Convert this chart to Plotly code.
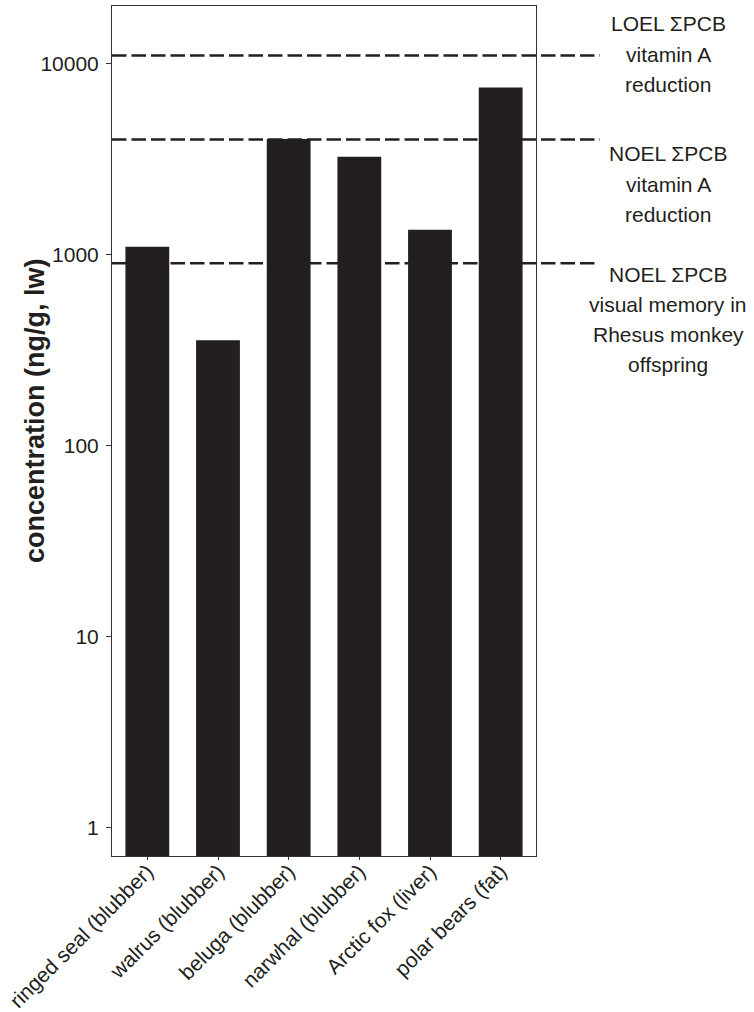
import plotly.graph_objects as go

categories = ["ringed seal (blubber)", "walrus (blubber)", "beluga (blubber)",
              "narwhal (blubber)", "Arctic fox (liver)", "polar bears (fat)"]
concentration = [1100, 356, 4020, 3250, 1350, 7500]

threshold_values = [11000, 4000, 900]
threshold_labels = [
    ["LOEL ΣPCB", "vitamin A", "reduction"],
    ["NOEL ΣPCB", "vitamin A", "reduction"],
    ["NOEL ΣPCB", "visual memory in", "Rhesus monkey", "offspring"],
]
tick_vals = [1, 10, 100, 1000, 10000]
tick_text = ["1", "10", "100", "1000", "10000"]
y_title = "concentration (ng/g, lw)"

DARK = "#231f20"
FONT = "Arial, 'Liberation Sans', Helvetica, sans-serif"

fig = go.Figure()
fig.add_trace(go.Bar(x=categories, y=concentration, marker=dict(color=DARK, line=dict(width=0)),
                     width=0.62, showlegend=False))

# plot area geometry in pixels (for placing text annotations)
W, H = 754, 1012
ml, mr, mt, mb = 112, 218, 6, 156
pw, ph = W - ml - mr, H - mt - mb

line_ends = [600, 600, 597]
for v, xe in zip(threshold_values, line_ends):
    fig.add_shape(type="line", xref="paper", yref="y", x0=0, x1=(xe - ml) / pw, y0=v, y1=v,
                  line=dict(color=DARK, width=2.5, dash="14.5px,5px"), layer="above")

text_starts = [24, 154, 274]
spacing = 30
text_cx = 668
for group, y0 in zip(threshold_labels, text_starts):
    for i, t in enumerate(group):
        py = y0 + i * spacing
        fig.add_annotation(text=t, xref="paper", yref="paper",
                           x=(text_cx - ml) / pw, y=(H - mb - py) / ph,
                           xanchor="center", yanchor="middle", showarrow=False,
                           font=dict(size=21, color=DARK, family=FONT))

# y-axis title as rotated annotation
fig.add_annotation(text="<b>" + y_title + "</b>", xref="paper", yref="paper",
                   x=(35 - ml) / pw, y=(H - mb - 411) / ph, textangle=-90,
                   xanchor="center", yanchor="middle", showarrow=False,
                   font=dict(size=27, color=DARK, family=FONT))

fig.update_layout(
    width=W, height=H,
    margin=dict(l=ml, r=mr, t=mt, b=mb, pad=0, autoexpand=False),
    paper_bgcolor="white", plot_bgcolor="white",
    font=dict(family=FONT, size=21, color=DARK),
)
fig.update_xaxes(
    automargin=False,
    showline=True, linecolor="#333", linewidth=1, mirror=True,
    ticks="outside", ticklen=3, tickcolor="#333", tickangle=-45,
    ticklabelstandoff=-9,
    tickfont=dict(size=21, color=DARK), showgrid=False,
)
fig.update_yaxes(
    automargin=False,
    type="log", range=[-0.148, 4.301],
    showline=True, linecolor="#333", linewidth=1, mirror=True,
    ticks="outside", ticklen=5, tickcolor="#333",
    tickvals=tick_vals, ticktext=tick_text, ticklabelstandoff=3,
    tickfont=dict(size=21, color=DARK), showgrid=False, zeroline=False,
)

fig.write_html("out.html", config={"displayModeBar": False},
               post_script="document.body.style.margin='0px';")
